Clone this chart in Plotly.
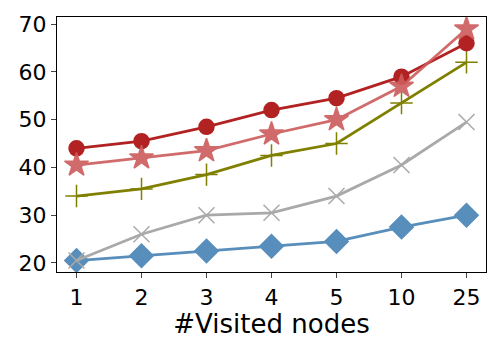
import plotly.graph_objects as go

# Datos
nodos = ["1", "2", "3", "4", "5", "10", "25"]
serie_diamante = [20.5, 21.5, 22.5, 23.5, 24.5, 27.5, 30]
serie_x = [20.5, 26, 30, 30.5, 34, 40.5, 49.5]
serie_cruz = [34, 35.5, 38.5, 42.5, 45, 53.5, 62]
serie_circulo = [44, 45.5, 48.5, 52, 54.5, 59, 66]
serie_estrella = [40.5, 42, 43.5, 47, 50, 57, 69]

series = [
    (serie_diamante, "#4682B4", "diamond", 18, 0.9),
    (serie_x, "#A9A9A9", "x-thin-open", 16, 1.0),
    (serie_cruz, "#808000", "cross-thin-open", 16, 1.0),
    (serie_circulo, "#B22222", "circle", 15, 1.0),
    (serie_estrella, "#CD5C5C", "star", 18, 0.9),
]

fig = go.Figure()
for valores, color, simbolo, tam, alfa in series:
    fig.add_trace(go.Scatter(
        x=nodos, y=valores, mode="lines+markers",
        line=dict(color=color, width=2.8),
        marker=dict(symbol=simbolo, size=tam, color=color,
                    line=dict(color=color, width=1.5)),
        opacity=alfa, showlegend=False))

# la página añade ~8px de margen al body, se compensa aquí
fig.update_layout(
    width=492, height=342,
    paper_bgcolor="white", plot_bgcolor="white",
    margin=dict(l=49, r=14, t=9, b=78),
    font=dict(family="DejaVu Sans", size=22, color="black"),
)
fig.update_xaxes(type="category", range=[-0.3, 6.3], automargin=False,
                 title=dict(text="#Visited nodes", standoff=4),
                 showline=True, linecolor="black", linewidth=1.2, mirror=True,
                 ticks="outside", ticklen=5, showgrid=False)
fig.update_yaxes(range=[18.1, 71.5], tickvals=[20, 30, 40, 50, 60, 70],
                 automargin=False,
                 showline=True, linecolor="black", linewidth=1.2, mirror=True,
                 ticks="outside", ticklen=5, showgrid=False, zeroline=False)

fig.write_html("out.html")
